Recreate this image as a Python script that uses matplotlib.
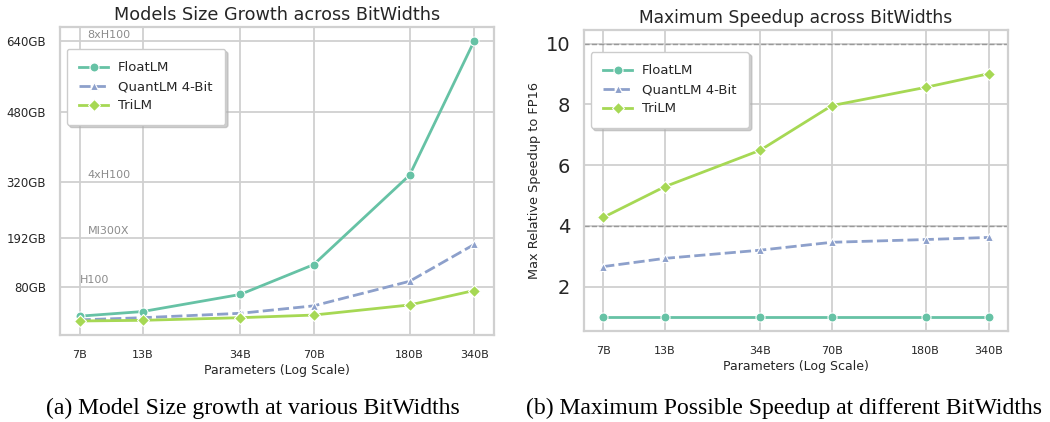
import matplotlib
matplotlib.use("Agg")
import matplotlib.pyplot as plt

# values
params = [7, 13, 34, 70, 180, 340]
param_labels = ["7B", "13B", "34B", "70B", "180B", "340B"]

size_float = [13.5, 24, 63, 131, 335, 641]
size_quant = [5, 10, 20, 37, 93, 177]
size_tri = [2.5, 4, 10, 16, 39, 72]

speed_float = [1, 1, 1, 1, 1, 1]
speed_quant = [2.66, 2.93, 3.20, 3.46, 3.55, 3.62]
speed_tri = [4.28, 5.29, 6.49, 7.96, 8.56, 9.01]

mem_ticks = [80, 192, 320, 480, 640]
mem_labels = ["80GB", "192GB", "320GB", "480GB", "640GB"]
gpu_names = ["H100", "MI300X", "4xH100", "8xH100"]
gpu_mem = [80, 192, 320, 640]
gpu_x = [7.0, 7.6, 7.55, 7.55]

speed_refs = [4, 10]

names = ["FloatLM", "QuantLM 4-Bit", "TriLM"]
colors = ["#66c2a5", "#8da0cb", "#a6d854"]
markers = ["o", "^", "D"]
msizes = [6.5, 5.5, 6]
dashes = [None, (4, 1.5), None]

GRID = "#d0d0d0"


def style_axes(ax):
    ax.set_facecolor("white")
    ax.grid(True, color=GRID, lw=1.3)
    ax.set_axisbelow(True)
    for s in ax.spines.values():
        s.set_color(GRID)
        s.set_linewidth(1.6)
    ax.tick_params(length=0, colors="#262626")
    ax.set_xscale("log")
    ax.set_xticks(params)
    ax.set_xticklabels(param_labels)
    ax.minorticks_off()
    ax.tick_params(axis="x", labelsize=8, pad=11)
    ax.set_xlabel("Parameters (Log Scale)", fontsize=9, color="#262626", labelpad=3)


def draw_lines(ax, series):
    for ys, name, c, m, ms, d in zip(series, names, colors, markers, msizes, dashes):
        line, = ax.plot(params, ys, color=c, lw=2, marker=m, ms=ms,
                        mec="white", mew=0.8, label=name)
        if d is not None:
            line.set_dashes(d)


def add_legend(ax, y):
    leg = ax.legend(loc="upper left", bbox_to_anchor=(0.0155, y), fontsize=9.5,
                    frameon=True, shadow={"color": "#b0b0b0", "alpha": 0.6},
                    fancybox=True, handlelength=2.2,
                    handletextpad=0.75, borderpad=0.95, labelspacing=0.45,
                    borderaxespad=0)
    leg.get_frame().set_edgecolor("#cccccc")
    leg.get_frame().set_facecolor("white")
    for t in leg.get_texts():
        t.set_color("#262626")


fig = plt.figure(figsize=(10.5, 4.22), dpi=100)
ax1 = fig.add_axes([0.0571, 0.2062, 0.4133, 0.7299])
ax2 = fig.add_axes([0.5562, 0.2164, 0.4038, 0.7126])

# (a) model size
style_axes(ax1)
draw_lines(ax1, [size_float, size_quant, size_tri])
ax1.set_yticks(mem_ticks)
ax1.set_yticklabels(mem_labels)
ax1.tick_params(axis="y", labelsize=8.5, pad=10)
for name, mem, x in zip(gpu_names, gpu_mem, gpu_x):
    ax1.text(x, mem + 15, name, fontsize=8, color="#8c8c8c", ha="left", va="center")
ax1.set_title("Models Size Growth across BitWidths", fontsize=12.7, color="#262626", pad=5)
add_legend(ax1, 0.929)

# (b) speedup
style_axes(ax2)
for r in speed_refs:
    ax2.axhline(r, color="#999999", lw=1, ls="--", zorder=1.5)
draw_lines(ax2, [speed_float, speed_quant, speed_tri])
ax2.set_yticks([2, 4, 6, 8, 10])
ax2.tick_params(axis="y", labelsize=14, pad=10)
ax2.set_ylabel("Max Relative Speedup to FP16", fontsize=9.3, color="#262626", labelpad=3)
ax2.set_title("Maximum Speedup across BitWidths", fontsize=12.3, color="#262626", pad=5)
add_legend(ax2, 0.927)

# subfigure captions
cap = dict(fontsize=17, family=["Liberation Serif", "DejaVu Serif"], ha="center", va="center")
fig.text(253 / 1050, 1 - 408 / 422, "(a) Model Size growth at various BitWidths", **cap)
fig.text(784 / 1050, 1 - 408 / 422, "(b) Maximum Possible Speedup at different BitWidths", **cap)

fig.savefig("out.png", dpi=100, facecolor="white")
